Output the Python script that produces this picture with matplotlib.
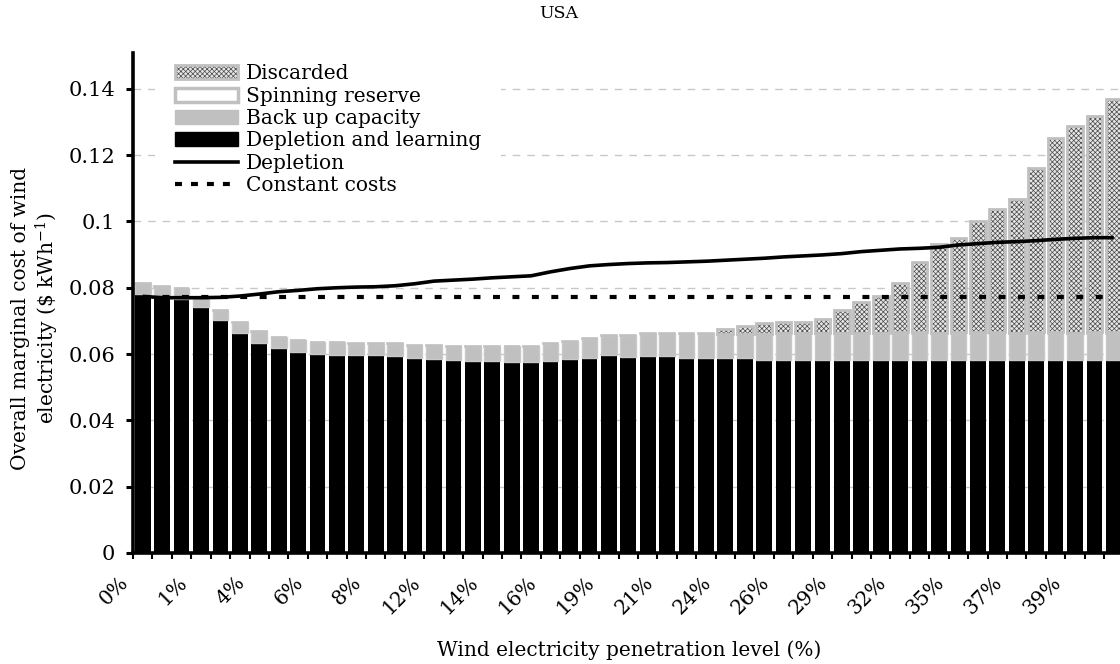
import numpy as np
import matplotlib
matplotlib.use("Agg")
import matplotlib.pyplot as plt
from matplotlib.patches import Patch
from matplotlib.lines import Line2D
from matplotlib.transforms import ScaledTranslation

plt.rcParams['font.family'] = ['DejaVu Serif']
plt.rcParams['mathtext.fontset'] = 'dejavuserif'
plt.rcParams['hatch.linewidth'] = 0.5
plt.rcParams['lines.scale_dashes'] = False

# Penetration-level labels shown under every third bar
tick_labels = ["0%", "1%", "4%", "6%", "8%", "12%", "14%", "16%", "19%",
               "21%", "24%", "26%", "29%", "32%", "35%", "37%", "39%"]
label_step = 3

# Cost components ($/kWh), one value per penetration step
depletion_learning = [
    0.0781, 0.0775, 0.0765, 0.0743, 0.0703, 0.0663, 0.0634, 0.0619, 0.0605, 0.0600,
    0.0597, 0.0597, 0.0597, 0.0593, 0.0589, 0.0584, 0.0583, 0.0580, 0.0580, 0.0576,
    0.0576, 0.0580, 0.0584, 0.0587, 0.0596, 0.0591, 0.0593, 0.0593, 0.0589, 0.0587,
    0.0589, 0.0587, 0.0582, 0.0582, 0.0582, 0.0582, 0.0581, 0.0581, 0.0581, 0.0581,
    0.0581, 0.0581, 0.0581, 0.0581, 0.0581, 0.0581, 0.0581, 0.0581, 0.0581, 0.0581,
    0.0581]
backup_capacity = [
    0.0031, 0.0027, 0.0033, 0.0027, 0.0027, 0.0032, 0.0034, 0.0031, 0.0036, 0.0035,
    0.0038, 0.0034, 0.0034, 0.0038, 0.0036, 0.0041, 0.0038, 0.0041, 0.0041, 0.0047,
    0.0046, 0.0051, 0.0051, 0.0057, 0.0057, 0.0064, 0.0067, 0.0067, 0.0071, 0.0073,
    0.0069, 0.0071, 0.0076, 0.0077, 0.0077, 0.0078, 0.0079, 0.0079, 0.0079, 0.0079,
    0.0079, 0.0079, 0.0079, 0.0079, 0.0079, 0.0079, 0.0079, 0.0079, 0.0079, 0.0079,
    0.0079]
spinning_reserve = [
    0.0002, 0.0002, 0.0002, 0.0002, 0.0002, 0.0002, 0.0002, 0.0002, 0.0002, 0.0002,
    0.0002, 0.0002, 0.0002, 0.0002, 0.0002, 0.0002, 0.0002, 0.0002, 0.0002, 0.0002,
    0.0003, 0.0003, 0.0003, 0.0003, 0.0003, 0.0003, 0.0003, 0.0003, 0.0003, 0.0003,
    0.0004, 0.0004, 0.0004, 0.0005, 0.0005, 0.0005, 0.0005, 0.0005, 0.0005, 0.0006,
    0.0006, 0.0005, 0.0006, 0.0006, 0.0006, 0.0005, 0.0006, 0.0006, 0.0005, 0.0006,
    0.0006]
discarded = [
    0.0, 0.0, 0.0, 0.0, 0.0, 0.0, 0.0, 0.0, 0.0, 0.0,
    0.0, 0.0, 0.0, 0.0, 0.0, 0.0, 0.0, 0.0, 0.0, 0.0,
    0.0, 0.0, 0.0, 0.0, 0.0, 0.0, 0.0, 0.0, 0.0, 0.0,
    0.0013, 0.0023, 0.0031, 0.0033, 0.0033, 0.0042, 0.0069, 0.0091, 0.0109, 0.0149,
    0.0213, 0.0268, 0.0285, 0.0334, 0.0371, 0.0404, 0.0494, 0.0585, 0.0622, 0.0652,
    0.0703]
depletion = [
    0.0774, 0.0770, 0.0770, 0.0770, 0.0771, 0.0775, 0.0781, 0.0788, 0.0792, 0.0797,
    0.0800, 0.0802, 0.0803, 0.0806, 0.0812, 0.0820, 0.0823, 0.0826, 0.0830, 0.0833,
    0.0836, 0.0848, 0.0858, 0.0866, 0.0870, 0.0873, 0.0875, 0.0876, 0.0878, 0.0880,
    0.0883, 0.0886, 0.0889, 0.0893, 0.0896, 0.0899, 0.0903, 0.0909, 0.0913, 0.0917,
    0.0919, 0.0922, 0.0929, 0.0933, 0.0937, 0.0939, 0.0942, 0.0946, 0.0949, 0.0951,
    0.0951]
constant_cost = 0.0772

y_ticks = [0, 0.02, 0.04, 0.06, 0.08, 0.10, 0.12, 0.14]
y_tick_labels = ["0", "0.02", "0.04", "0.06", "0.08", "0.1", "0.12", "0.14"]

W, H = 1120, 664
fig = plt.figure(figsize=(W / 100, H / 100), dpi=100)
ax = fig.add_axes([133 / W, 111 / H, (1123.5 - 133) / W, 500 / H])

n = len(depletion_learning)
x = np.arange(n)
dl = np.array(depletion_learning)
bk = np.array(backup_capacity)
sp = np.array(spinning_reserve)
dc = np.array(discarded)
bw = 0.81

GRAY = "#c0c0c0"
HATCH = "xxxxxxx"
ax.bar(x, dl, bw, color="black", linewidth=0, zorder=2)
ax.bar(x, bk, bw, bottom=dl, color=GRAY, edgecolor="#c9c9c9", linewidth=1.0, zorder=2)
ax.bar(x, sp, bw, bottom=dl + bk, color="white", edgecolor=GRAY, linewidth=1.2, zorder=2)
has_dc = dc > 0
ax.bar(x[has_dc], dc[has_dc], bw, bottom=(dl + bk + sp)[has_dc], facecolor="#e6e6e6",
       edgecolor="#4a4a4a", linewidth=0, hatch=HATCH, zorder=2)
ax.bar(x[has_dc], dc[has_dc], bw, bottom=(dl + bk + sp)[has_dc], fill=False,
       edgecolor=GRAY, linewidth=2.0, zorder=2.1)

ax.plot(x, depletion, color="black", linewidth=2.6, zorder=4, solid_capstyle="butt")
ax.plot(x, [constant_cost] * n, color="black", linewidth=3.0, dashes=(5.0, 9.0), zorder=3)

ax.set_xlim(-0.5, n - 0.5)
ax.set_ylim(0, 0.1508)

for s in ("top", "right"):
    ax.spines[s].set_visible(False)
ax.spines["left"].set_linewidth(2.6)
ax.spines["bottom"].set_linewidth(2.6)

ax.set_yticks(y_ticks)
ax.set_yticklabels(y_tick_labels, fontsize=15)
ax.tick_params(axis="y", direction="out", length=5, width=2.2, pad=8)

ax.set_xticks(np.arange(n + 1) - 0.5)
ax.set_xticklabels([])
ax.tick_params(axis="x", which="major", direction="out", length=4, width=1.5)
ax.set_xticks(x[::label_step], minor=True)
ax.set_xticklabels(tick_labels, minor=True, rotation=45, ha="right", va="center",
                   rotation_mode="anchor", fontsize=14.5)
ax.tick_params(axis="x", which="minor", length=0, pad=19)
for lbl in ax.get_xticklabels(minor=True):
    lbl.set_transform(lbl.get_transform() + ScaledTranslation(-0.17, 0, fig.dpi_scale_trans))

ax.set_axisbelow(True)
ax.yaxis.grid(True, color="#c8c8c8", linewidth=1.0, linestyle=(0, (5.5, 5)))

fig.text(559 / W, 1 - 13 / H, "USA", ha="center", va="center", fontsize=12.5)
fig.text(629 / W, 1 - 650 / H, "Wind electricity penetration level (%)",
         ha="center", va="center", fontsize=14.5)
fig.text(36 / W, 1 - 318 / H,
         "Overall marginal cost of wind\nelectricity (\\$ kWh$^{-1}$)",
         rotation=90, ha="center", va="center", multialignment="center",
         fontsize=14.5, linespacing=1.15)

h_dc = (Patch(facecolor="#e6e6e6", edgecolor="#4a4a4a", linewidth=0, hatch=HATCH),
        Patch(fill=False, edgecolor=GRAY, linewidth=2.0))
h_sp = Patch(facecolor="white", edgecolor=GRAY, linewidth=2.5)
h_bk = Patch(facecolor=GRAY, edgecolor=GRAY, linewidth=1.0)
h_dl = Patch(facecolor="black", edgecolor="black", linewidth=1.0)
h_de = Line2D([], [], color="black", linewidth=2.6)
h_cc = Line2D([], [], color="black", linewidth=3.0, dashes=(5.0, 6.5))
leg = fig.legend([h_dc, h_sp, h_bk, h_dl, h_de, h_cc],
                 ["Discarded", "Spinning reserve", "Back up capacity",
                  "Depletion and learning", "Depletion", "Constant costs"],
                 loc="upper left", bbox_to_anchor=(145 / W, 1 - 34 / H),
                 fontsize=14.5, frameon=True, facecolor="white", edgecolor="none",
                 framealpha=1, fancybox=False, borderpad=1.0, labelspacing=0.17,
                 handlelength=3.1, handleheight=0.7, handletextpad=0.4)

fig.savefig("out.png", dpi=100)
